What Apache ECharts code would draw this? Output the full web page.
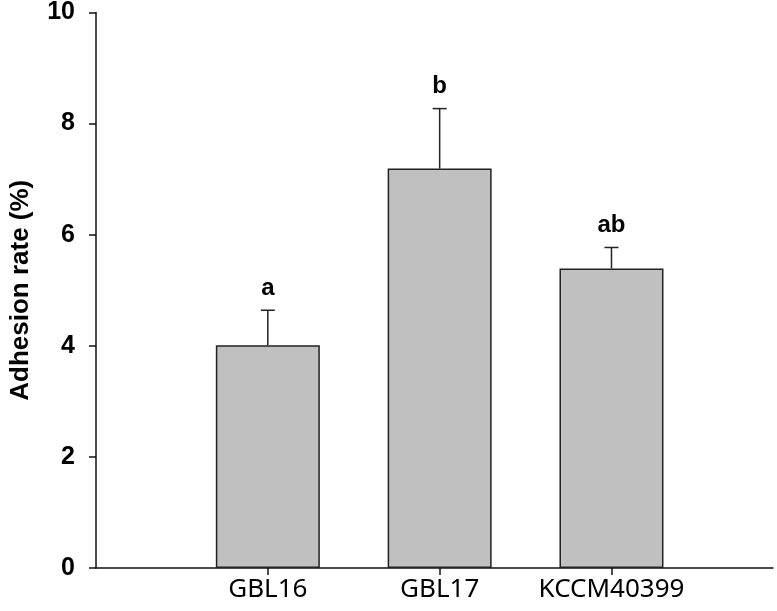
<!DOCTYPE html>
<html>
<head>
<meta charset="utf-8">
<script src="https://cdn.jsdelivr.net/npm/echarts@6/dist/echarts.min.js"></script>
<style>
  html, body { margin: 0; padding: 0; background: #fff; }
  #chart { width: 777px; height: 611px; }
</style>
</head>
<body>
<div id="chart"></div>
<script>
// strains and their position on the x axis
const strains = ['GBL16', 'GBL17', 'KCCM40399']
const positions = [1, 2, 3]
const adhesion = [4.01, 7.19, 5.39]   // mean adhesion rate (%)
const errUpper = [4.64, 8.27, 5.77]   // top of the error bar
const groups = ['a', 'b', 'ab']       // significance letters
const yTicks = [0, 2, 4, 6, 8, 10]

const chart = echarts.init(document.getElementById('chart'))

const barData = positions.map((x, i) => [x, adhesion[i]])
const errData = positions.map((x, i) => [x, adhesion[i], errUpper[i], i])

const option = {
  animation: false,
  grid: { left: 87, right: 4, top: 12, bottom: 43 },
  xAxis: {
    type: 'value',
    min: 0,
    max: 3.94,
    splitLine: { show: false },
    axisLine: { show: true, lineStyle: { color: '#111', width: 1.5 } },
    axisTick: { show: true, inside: false, length: 7, customValues: positions, lineStyle: { color: '#111', width: 1.5 } },
    axisLabel: {
      customValues: positions,
      formatter: v => strains[positions.indexOf(v)] || '',
      color: '#000',
      fontSize: 26,
      fontFamily: 'Noto Sans',
      margin: 9
    }
  },
  yAxis: {
    type: 'value',
    min: 0,
    max: 10,
    interval: 2,
    name: 'Adhesion rate (%)',
    nameLocation: 'middle',
    nameGap: 62,
    nameTextStyle: { color: '#000', fontSize: 26, fontWeight: 'bold', fontFamily: 'Liberation Sans' },
    splitLine: { show: false },
    axisLine: { show: true, lineStyle: { color: '#111', width: 1.5 } },
    axisTick: { show: true, inside: false, length: 7, lineStyle: { color: '#111', width: 1.5 } },
    axisLabel: {
      formatter: v => yTicks.includes(v) ? String(v) : '',
      color: '#000',
      fontSize: 25,
      fontWeight: 'bold',
      fontFamily: 'Liberation Sans',
      margin: 21
    }
  },
  series: [
    {
      type: 'bar',
      data: barData,
      barWidth: 104,
      itemStyle: { color: '#c0c0c0', borderColor: '#222', borderWidth: 1.5 },
      z: 2
    },
    {
      type: 'custom',
      data: errData,
      z: 3,
      renderItem(params, api) {
        const x = api.value(0)
        const top = api.coord([x, api.value(1)])
        const hi = api.coord([x, api.value(2)])
        const idx = api.value(3)
        const style = { stroke: '#222', lineWidth: 1.5 }
        return {
          type: 'group',
          children: [
            { type: 'line', shape: { x1: top[0], y1: top[1], x2: hi[0], y2: hi[1] }, style },
            { type: 'line', shape: { x1: hi[0] - 7, y1: hi[1], x2: hi[0] + 7, y2: hi[1] }, style },
            {
              type: 'text',
              style: {
                x: hi[0],
                y: hi[1] - 10,
                text: groups[idx],
                fill: '#000',
                font: 'bold 24px "Liberation Sans"',
                align: 'center',
                verticalAlign: 'bottom'
              }
            }
          ]
        }
      }
    }
  ]
}

chart.setOption(option)
</script>
</body>
</html>
